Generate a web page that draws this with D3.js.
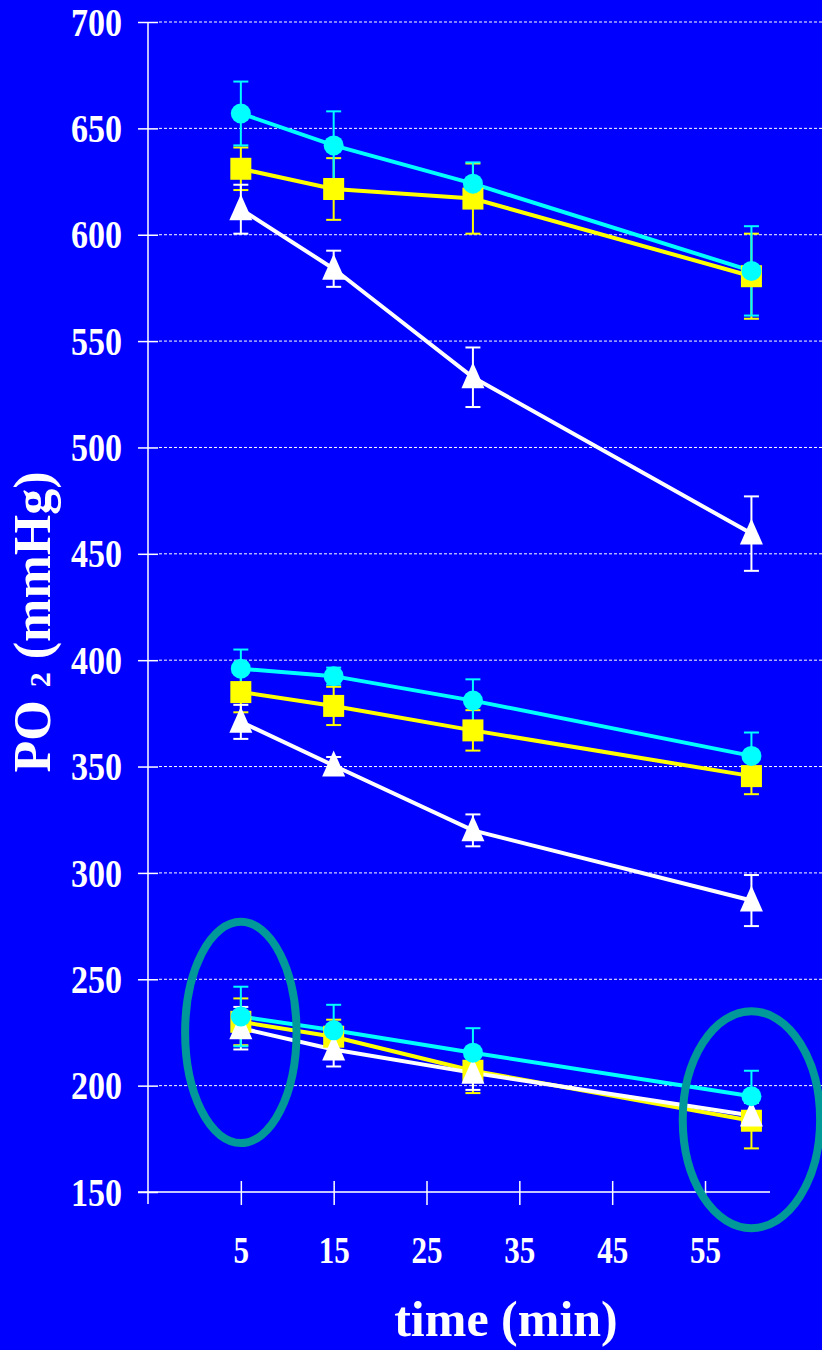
<!DOCTYPE html>
<html>
<head>
<meta charset="utf-8">
<script src="https://cdn.jsdelivr.net/npm/d3@7"></script>
<style>
  html, body { margin: 0; padding: 0; background: #0000ff; }
  svg { display: block; }
  text { font-family: "Liberation Serif", "Times New Roman", serif; font-weight: bold; fill: #fff; }
</style>
</head>
<body>
<div id="chart"></div>
<script>
// sampling times (min)
const times = [5, 15, 30, 60];
const xTicks = [5, 15, 25, 35, 45, 55];
const yTicks = [150, 200, 250, 300, 350, 400, 450, 500, 550, 600, 650, 700];

// PO2 means and error bars
// upper group
const cyanHigh = [657, 642, 624, 583];
const cyanHighErr = [15, 16, 10, 21];
const yellowHigh = [631, 621.5, 617, 580.5];
const yellowHighErr = [10, 14.5, 16.5, 20];
const whiteHigh = [612, 584, 533, 459.5];
const whiteHighErr = [11.5, 8.5, 14, 17.5];
// middle group
const cyanMid = [396, 392.5, 381, 355];
const cyanMidErr = [9, 4, 10, 11];
const yellowMid = [385, 378.5, 367, 345.5];
const yellowMidErr = [9.5, 9, 9.5, 8.5];
const whiteMid = [371, 350.5, 320, 287];
const whiteMidErr = [8, 4, 7.5, 12];
// lower group
const cyanLow = [232.5, 226, 215.5, 195];
const cyanLowErr = [14, 12, 11.5, 12];
const yellowLow = [230, 223, 207, 183.5];
const yellowLowErr = [11, 8, 10.5, 13];
const whiteLow = [227, 217, 206, 186];
const whiteLowErr = [10, 8, 8, 6];

// highlighted points (ellipses), in data units
const highlights = [
  { t: 5, v: 225, rt: 6, rv: 52 },
  { t: 60, v: 184, rt: 7.4, rv: 51 }
];

const width = 822, height = 1350;
const margin = { left: 148, right: 52, top: 22, bottom: 158 };

const svg = d3.select("#chart").append("svg")
  .attr("width", width).attr("height", height);
svg.append("rect").attr("width", width).attr("height", height).attr("fill", "#0000ff");

const x = d3.scaleLinear().domain([-5, 62]).range([margin.left, width - margin.right]);
const y = d3.scaleLinear().domain([150, 700]).range([height - margin.bottom, margin.top]);

// squeeze the tall Times digits like the original
function squeeze(sel, k) {
  sel.each(function () {
    const w = this.getComputedTextLength();
    d3.select(this).attr("textLength", w * k).attr("lengthAdjust", "spacingAndGlyphs");
  });
}

//dotted grid lines
svg.append("g")
  .selectAll("line")
  .data(yTicks.filter((d) => d > 150))
  .join("line")
    .attr("x1", x(-5) + 11)
    .attr("x2", width)
    .attr("y1", (d) => y(d))
    .attr("y2", (d) => y(d))
    .attr("stroke", "#fff")
    .attr("stroke-width", 1)
    .attr("stroke-dasharray", "3,2");

//x axis line
svg.append("line")
  .attr("x1", x(-5) - 10).attr("x2", x(62))
  .attr("y1", y(150)).attr("y2", y(150))
  .attr("stroke", "#c4c4ff").attr("stroke-width", 2);

//y axis
const yAxis = svg.append("g")
  .attr("transform", `translate(${x(-5)},0)`)
  .call(d3.axisLeft(y).tickValues(yTicks).tickSize(10).tickPadding(16));
yAxis.select(".domain").remove();
yAxis.selectAll(".tick line").attr("x1", 10).attr("stroke", "#fff").attr("stroke-width", 1.5);
yAxis.selectAll(".tick text")
  .attr("font-size", 41)
  .attr("font-family", "Liberation Serif")
  .attr("fill", "#fff")
  .call(squeeze, 0.83);
svg.append("line")
  .attr("x1", x(-5)).attr("x2", x(-5))
  .attr("y1", y(700)).attr("y2", y(150) + 12)
  .attr("stroke", "#fff").attr("stroke-width", 1.5);

//x axis
const xAxis = svg.append("g")
  .attr("transform", `translate(0,${y(150)})`)
  .call(d3.axisBottom(x).tickValues(xTicks).tickSize(13).tickPadding(32));
xAxis.select(".domain").remove();
xAxis.selectAll(".tick line").attr("y1", -11).attr("stroke", "#fff").attr("stroke-width", 1.5);
xAxis.selectAll(".tick text")
  .attr("font-size", 37)
  .attr("font-family", "Liberation Serif")
  .attr("fill", "#fff")
  .call(squeeze, 0.84);

//axis titles
svg.append("text")
  .attr("x", 506).attr("y", 1336)
  .attr("text-anchor", "middle")
  .attr("font-size", 50)
  .text("time (min)");

const yTitle = svg.append("text")
  .attr("transform", "translate(50,622) rotate(-90)")
  .attr("text-anchor", "middle")
  .attr("font-size", 52);
yTitle.append("tspan").text("PO ");
yTitle.append("tspan").attr("font-size", 30).text("2");
yTitle.append("tspan").text(" (mmHg)");

// series, drawn back to front
const series = [
  { color: "#ffff00", shape: "square", values: yellowHigh, errors: yellowHighErr },
  { color: "#ffff00", shape: "square", values: yellowMid, errors: yellowMidErr },
  { color: "#ffff00", shape: "square", values: yellowLow, errors: yellowLowErr },
  { color: "#ffffff", shape: "triangle", values: whiteHigh, errors: whiteHighErr },
  { color: "#ffffff", shape: "triangle", values: whiteMid, errors: whiteMidErr },
  { color: "#ffffff", shape: "triangle", values: whiteLow, errors: whiteLowErr },
  { color: "#00ffff", shape: "circle", values: cyanHigh, errors: cyanHighErr },
  { color: "#00ffff", shape: "circle", values: cyanMid, errors: cyanMidErr },
  { color: "#00ffff", shape: "circle", values: cyanLow, errors: cyanLowErr }
].map((s) => ({ ...s, points: times.map((t, i) => ({ t, v: s.values[i], e: s.errors[i] })) }));

//error bars
const err = svg.append("g");
series.forEach((s) => {
  const g = err.append("g").attr("stroke", s.color).attr("stroke-width", 2);
  g.selectAll(".stem").data(s.points).join("line")
    .attr("x1", (d) => x(d.t)).attr("x2", (d) => x(d.t))
    .attr("y1", (d) => y(d.v + d.e)).attr("y2", (d) => y(d.v - d.e));
  g.selectAll(".capTop").data(s.points).join("line")
    .attr("x1", (d) => x(d.t) - 7.5).attr("x2", (d) => x(d.t) + 7.5)
    .attr("y1", (d) => y(d.v + d.e)).attr("y2", (d) => y(d.v + d.e));
  g.selectAll(".capBottom").data(s.points).join("line")
    .attr("x1", (d) => x(d.t) - 7.5).attr("x2", (d) => x(d.t) + 7.5)
    .attr("y1", (d) => y(d.v - d.e)).attr("y2", (d) => y(d.v - d.e));
});

//lines
const line = d3.line().x((d) => x(d.t)).y((d) => y(d.v));
svg.append("g")
  .selectAll("path")
  .data(series)
  .join("path")
    .attr("d", (s) => line(s.points))
    .attr("fill", "none")
    .attr("stroke", (s) => s.color)
    .attr("stroke-width", 4);

//markers
const marks = svg.append("g");
series.forEach((s) => {
  const g = marks.append("g").attr("fill", s.color);
  if (s.shape === "circle") {
    g.selectAll("circle").data(s.points).join("circle")
      .attr("cx", (d) => x(d.t)).attr("cy", (d) => y(d.v)).attr("r", 10);
  } else if (s.shape === "square") {
    g.selectAll("rect").data(s.points).join("rect")
      .attr("x", (d) => x(d.t) - 10.5).attr("y", (d) => y(d.v) - 11)
      .attr("width", 21).attr("height", 22);
  } else {
    g.selectAll("path").data(s.points).join("path")
      .attr("d", (d) => {
        const cx = x(d.t), cy = y(d.v);
        return `M${cx},${cy - 15}L${cx + 11.5},${cy + 11}L${cx - 11.5},${cy + 11}Z`;
      });
  }
});

//ellipses round the highlighted points
svg.append("g")
  .selectAll("ellipse")
  .data(highlights)
  .join("ellipse")
    .attr("cx", (d) => x(d.t))
    .attr("cy", (d) => y(d.v))
    .attr("rx", (d) => x(d.t + d.rt) - x(d.t))
    .attr("ry", (d) => y(d.v) - y(d.v + d.rv))
    .attr("fill", "none")
    .attr("stroke", "#009999")
    .attr("stroke-width", 8);
</script>
</body>
</html>
